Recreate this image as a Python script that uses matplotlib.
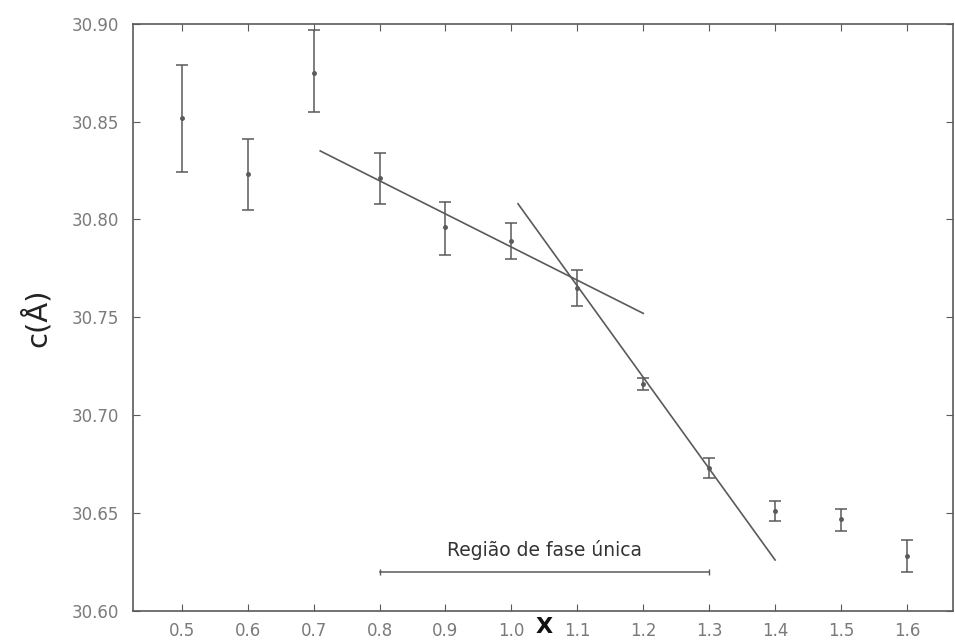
import numpy as np
from matplotlib import pyplot as plt

x = [0.5, 0.6, 0.7, 0.8, 0.9, 1.0, 1.1, 1.2, 1.3, 1.4, 1.5, 1.6]
c = [30.852, 30.823, 30.875, 30.821, 30.796, 30.789, 30.765, 30.716, 30.673, 30.651, 30.647, 30.628]
err_lo = [0.028, 0.018, 0.020, 0.013, 0.014, 0.009, 0.009, 0.003, 0.005, 0.005, 0.006, 0.008]
err_hi = [0.027, 0.018, 0.022, 0.013, 0.013, 0.009, 0.009, 0.003, 0.005, 0.005, 0.005, 0.008]

# fitted straight lines (end points)
fit1_x = [0.71, 1.2]
fit1_y = [30.835, 30.752]
fit2_x = [1.01, 1.4]
fit2_y = [30.808, 30.626]

region_x = [0.8, 1.3]
region_y = 30.620

xticks = [0.5, 0.6, 0.7, 0.8, 0.9, 1.0, 1.1, 1.2, 1.3, 1.4, 1.5, 1.6]
yticks = [30.60, 30.65, 30.70, 30.75, 30.80, 30.85, 30.90]

line_col = '#5a5a5a'
text_col = '#7a7a7a'

fig = plt.figure(figsize=(9.55, 6.41), dpi=100)
ax = fig.add_axes([0.139, 0.047, 0.859, 0.916])

ax.errorbar(x, c, yerr=[err_lo, err_hi], fmt='o', ms=2.5, color=line_col,
            ecolor=line_col, elinewidth=1.1, capsize=4, capthick=1.1)
ax.plot(fit1_x, fit1_y, color=line_col, lw=1.2)
ax.plot(fit2_x, fit2_y, color=line_col, lw=1.2)

ax.errorbar(region_x, [region_y, region_y], yerr=0.0015, color=line_col,
            lw=1.1, elinewidth=1.0, capsize=0)
ax.text(1.05, 30.631, 'Região de fase única', ha='center', va='center',
        fontsize=13.5, color='#333333')

ax.set_xlim(0.4256, 1.67)
ax.set_ylim(30.60, 30.90)
ax.set_xticks(xticks)
ax.set_xticklabels(['%.1f' % v for v in xticks])
ax.set_yticks(yticks)
ax.set_yticklabels(['%.2f' % v for v in yticks])
ax.tick_params(direction='in', length=5, top=True, right=True, labelsize=12,
               labelcolor=text_col, color=line_col)
ax.tick_params(axis='x', pad=8)
ax.tick_params(axis='y', pad=10)
for s in ax.spines.values():
    s.set_color(line_col)
    s.set_linewidth(1.2)

ax.set_ylabel('c(Å)', fontsize=21, color='#222222', labelpad=14)
ax.set_xlabel('X', fontsize=16, fontweight='bold', color='#111111', va='center')
ax.xaxis.set_label_coords((1.05 - 0.4256) / (1.67 - 0.4256), -0.028)

plt.savefig('out.png', dpi=100)
